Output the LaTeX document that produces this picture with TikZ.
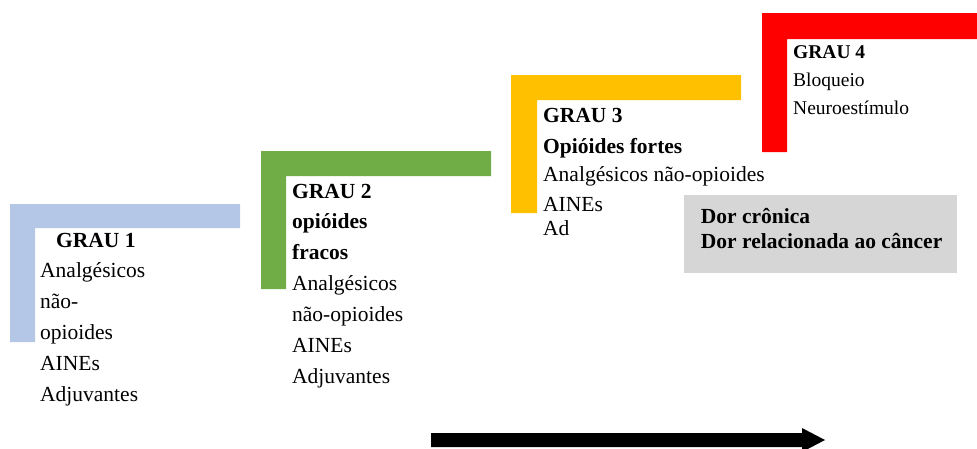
\documentclass[tikz,border=0pt]{standalone}
\usepackage{fontspec}
\setmainfont{Liberation Serif}
\begin{document}
\begin{tikzpicture}[x=1pt,y=-1pt,
  txt/.style={anchor=base west, inner sep=0pt, font=\fontsize{21.5}{26}\selectfont},
  btxt/.style={txt, font=\fontsize{21.5}{26}\selectfont\bfseries},
  stxt/.style={anchor=base west, inner sep=0pt, font=\fontsize{19.5}{24}\selectfont},
  sbtxt/.style={stxt, font=\fontsize{19.5}{24}\selectfont\bfseries}]
\definecolor{stepblue}{HTML}{B4C7E7}
\definecolor{stepgreen}{HTML}{70AD47}
\definecolor{stepyellow}{HTML}{FFC000}
\definecolor{stepred}{HTML}{FF0000}
\definecolor{boxgray}{HTML}{D6D6D6}
\useasboundingbox (0,0) rectangle (977,448);
% L-shaped steps
\fill[stepblue] (10,204) -- (240,204) -- (240,228) -- (35,228) -- (35,342) -- (10,342) -- cycle;
\fill[stepgreen] (261,151) -- (491,151) -- (491,176) -- (286,176) -- (286,289) -- (261,289) -- cycle;
\fill[stepyellow] (511,75) -- (741,75) -- (741,100) -- (537,100) -- (537,213) -- (511,213) -- cycle;
\fill[stepred] (762,13) -- (977,13) -- (977,39) -- (787,39) -- (787,152) -- (762,152) -- cycle;
% Grau 1
\node[btxt] (g1) at (56,247) {GRAU 1};
\node[txt] (g1a) at (40,277) {Analgésicos};
\node[txt] (g1b) at (40,308) {não-};
\node[txt] (g1c) at (40,339) {opioides};
\node[txt] (g1d) at (40,370) {AINEs};
\node[txt] (g1e) at (40,401) {Adjuvantes};
% Grau 2
\node[btxt] (g2) at (292,198) {GRAU 2};
\node[btxt] (g2a) at (292,228) {opióides};
\node[btxt] (g2b) at (292,259) {fracos};
\node[txt] (g2c) at (292,290) {Analgésicos};
\node[txt] (g2d) at (292,321) {não-opioides};
\node[txt] (g2e) at (292,352) {AINEs};
\node[txt] (g2f) at (292,383) {Adjuvantes};
% Grau 3
\node[btxt] (g3) at (543,122) {GRAU 3};
\node[btxt] (g3a) at (543,153) {Opióides fortes};
\node[txt] (g3b) at (543,181) {Analgésicos não-opioides};
\node[txt] (g3c) at (543,211) {AINEs};
\node[txt] (g3d) at (543,235) {Ad};
% Grau 4
\node[sbtxt] (g4) at (793,58) {GRAU 4};
\node[stxt] (g4a) at (793,86) {Bloqueio};
\node[stxt] (g4b) at (793,114) {Neuroestímulo};
% Gray box
\node[fill=boxgray, inner sep=0pt, minimum width=273.5pt, minimum height=77.5pt, anchor=north west] (dorbox) at (683.3,195) {};
\node[btxt] (dor1) at (700.7,223) {Dor crônica};
\node[btxt] (dor2) at (700.7,248.5) {Dor relacionada ao câncer};
% Arrow
\fill[black] (431,433) -- (802,433) -- (802,428) -- (825,440) -- (802,452) -- (802,447) -- (431,447) -- cycle;
\end{tikzpicture}
\end{document}
